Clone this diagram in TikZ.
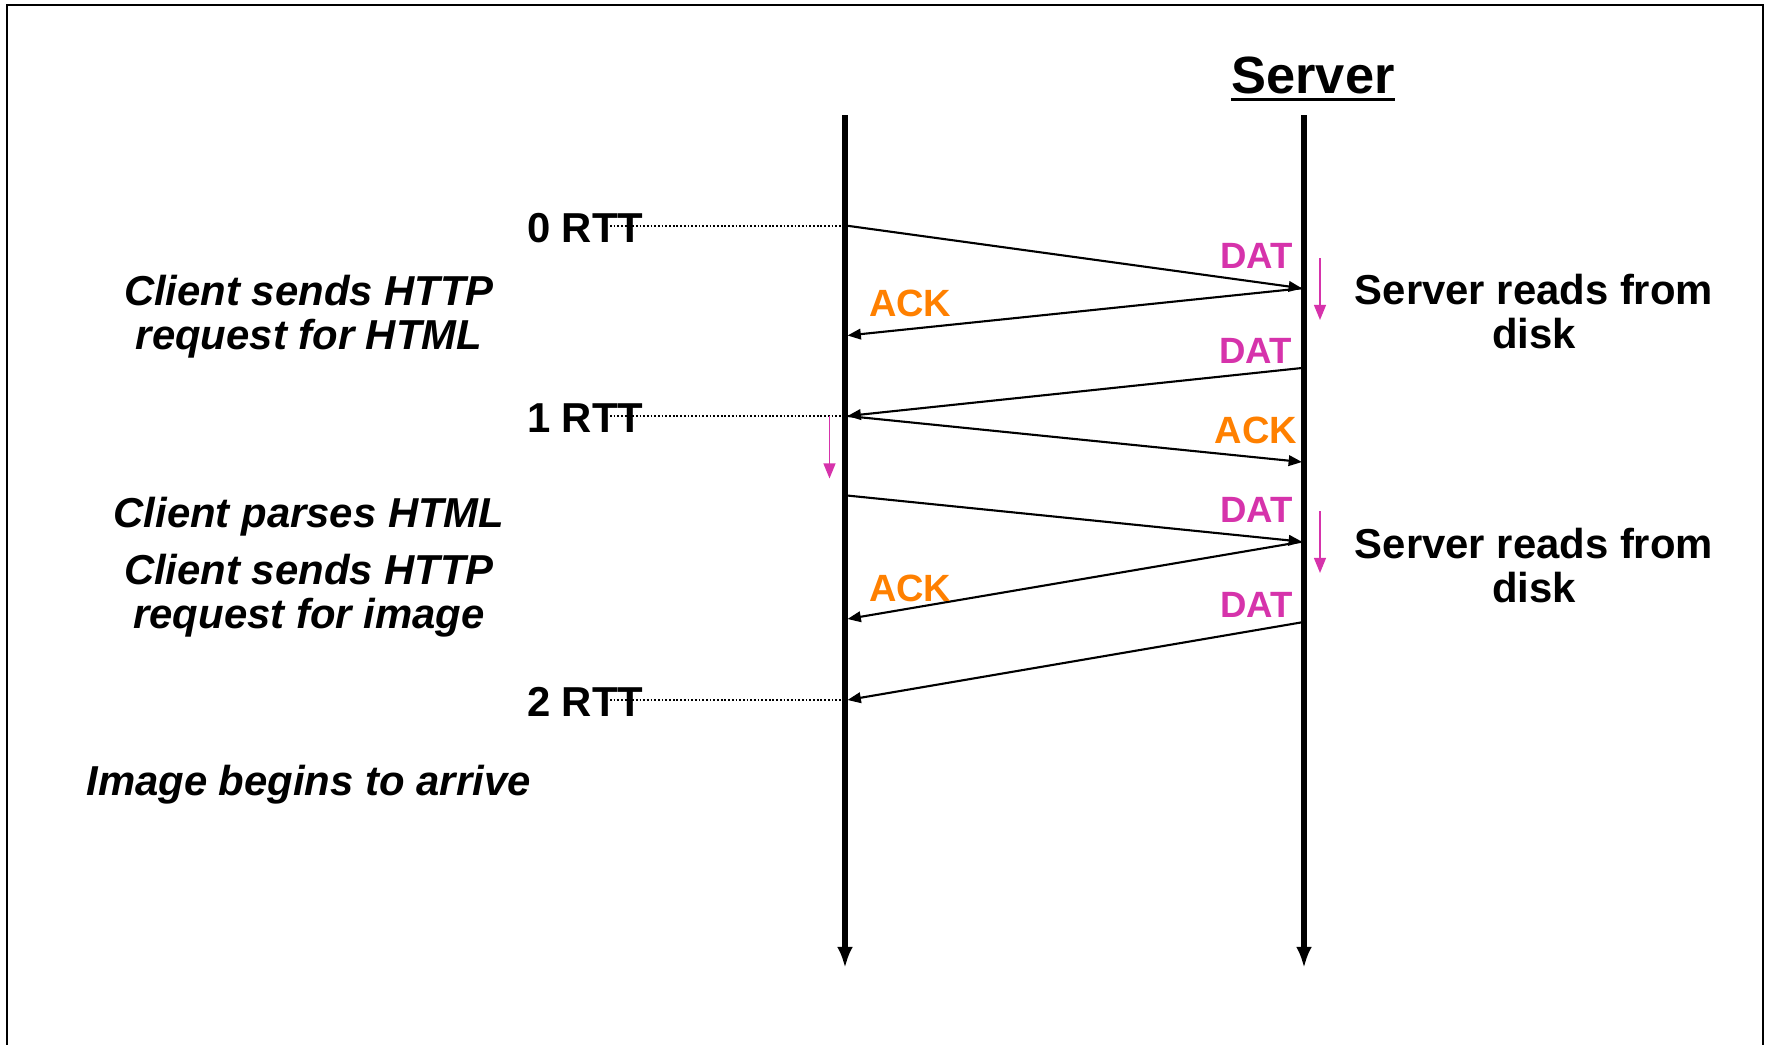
\documentclass[tikz,border=0pt]{standalone}
\usepackage{fontspec}
\setmainfont{Liberation Sans}
\usetikzlibrary{arrows.meta}
\definecolor{datcol}{RGB}{214,51,171}
\definecolor{ackcol}{RGB}{255,128,0}
\begin{document}
\begin{tikzpicture}[x=0.01cm,y=-0.01cm,
  txt/.style={inner sep=0pt,outer sep=0pt},
  lifeline/.style={line width=1.55pt,-{Latex[length=6pt,width=4.5pt]}},
  msg/.style={line width=0.6pt,-{Triangle[length=3.8pt,width=3pt]}},
  waitarrow/.style={draw=datcol,line width=0.45pt,-{Triangle[length=4.3pt,width=3.4pt]}},
  rttline/.style={line width=0.5pt,dash pattern=on 0.5pt off 0.55pt},
  rtt/.style={txt,anchor=base west,font=\bfseries\fontsize{11.9pt}{12.5pt}\selectfont},
  note/.style={txt,anchor=base,align=center,font=\bfseries\itshape\fontsize{11.9pt}{12.23pt}\selectfont},
  srvnote/.style={txt,anchor=base,align=center,font=\bfseries\fontsize{11.9pt}{12.5pt}\selectfont},
  dat/.style={txt,anchor=base east,text=datcol,font=\bfseries\fontsize{10.4pt}{12pt}\selectfont},
  ack/.style={txt,text=ackcol,font=\bfseries\fontsize{10.8pt}{12pt}\selectfont}]

\useasboundingbox (0,0) rectangle (1765,1045);

% open frame (left, top, right)
\draw[line width=0.8pt] (7,1050) -- (7,5) -- (1763,5) -- (1763,1050);

% title
\node[txt,anchor=base,font=\bfseries\fontsize{14.9pt}{16pt}\selectfont] (title) at (1313,93.3) {Server};
\draw[line width=0.85pt] ([yshift=-1.7pt]title.base west) -- ([yshift=-1.7pt]title.base east);

% lifelines
\coordinate (ctop) at (845,115);
\coordinate (cbot) at (845,968);
\coordinate (stop) at (1304,115);
\coordinate (sbot) at (1304,968);
\draw[lifeline] (ctop) -- (cbot);
\draw[lifeline] (stop) -- (sbot);

% message end points on the lifelines
\coordinate (c0) at (847,225.7);
\coordinate (s0) at (1302,288.3);
\coordinate (c1) at (847.5,335.5);
\coordinate (s1) at (1302,368);
\coordinate (c2) at (847.5,416);
\coordinate (s2) at (1302,462);
\coordinate (c3) at (847,495.5);
\coordinate (s3) at (1302,541.7);
\coordinate (c4) at (847.5,619);
\coordinate (s4) at (1302,622.3);
\coordinate (c5) at (847.5,700);

% messages
\draw[msg] (c0) -- (s0);
\draw[msg] (s0) -- (c1);
\draw[msg] (s1) -- (c2);
\draw[msg] (c2) -- (s2);
\draw[msg] (c3) -- (s3);
\draw[msg] (s3) -- (c4);
\draw[msg] (s4) -- (c5);

% message labels
\node[dat] (dat1) at (1293,268.3) {DAT};
\node[ack,anchor=base west] (ack1) at (869,316) {ACK};
\node[dat] (dat2) at (1292,363.3) {DAT};
\node[ack,anchor=base east] (ack2) at (1297,443) {ACK};
\node[dat] (dat3) at (1293,522) {DAT};
\node[ack,anchor=base west] (ack3) at (869,601) {ACK};
\node[dat] (dat4) at (1293,617) {DAT};

% RTT marks
\node[rtt] (rtt0) at (527,242.3) {0 RTT};
\node[rtt] (rtt1) at (527,432.5) {1 RTT};
\node[rtt] (rtt2) at (527,716.7) {2 RTT};
\coordinate (d0) at (610,225.7);
\coordinate (d1) at (610,416);
\coordinate (d2) at (610,700);
\draw[rttline] (d0) -- (845,225.7);
\draw[rttline] (d1) -- (845,416);
\draw[rttline] (d2) -- (845,700);

% processing delays
\coordinate (w1a) at (1320,258);
\coordinate (w1b) at (1320,320);
\coordinate (w2a) at (829.5,416);
\coordinate (w2b) at (829.5,478.5);
\coordinate (w3a) at (1320,511);
\coordinate (w3b) at (1320,573);
\draw[waitarrow] (w1a) -- (w1b);
\draw[waitarrow] (w2a) -- (w2b);
\draw[waitarrow] (w3a) -- (w3b);

% server side notes (anchored at the baseline of the last line)
\node[srvnote] (read1) at (1534,348) {Server reads from\\disk};
\node[srvnote] (read2) at (1534,602) {Server reads from\\disk};

% client side notes
\node[note] (req1) at (309,349) {Client sends HTTP\\request for HTML};
\node[note] (parse) at (309,527) {Client parses HTML};
\node[note] (req2) at (309,628) {Client sends HTTP\\request for image};
\node[note] (arrive) at (308.5,795) {Image begins to arrive};
\end{tikzpicture}
\end{document}
